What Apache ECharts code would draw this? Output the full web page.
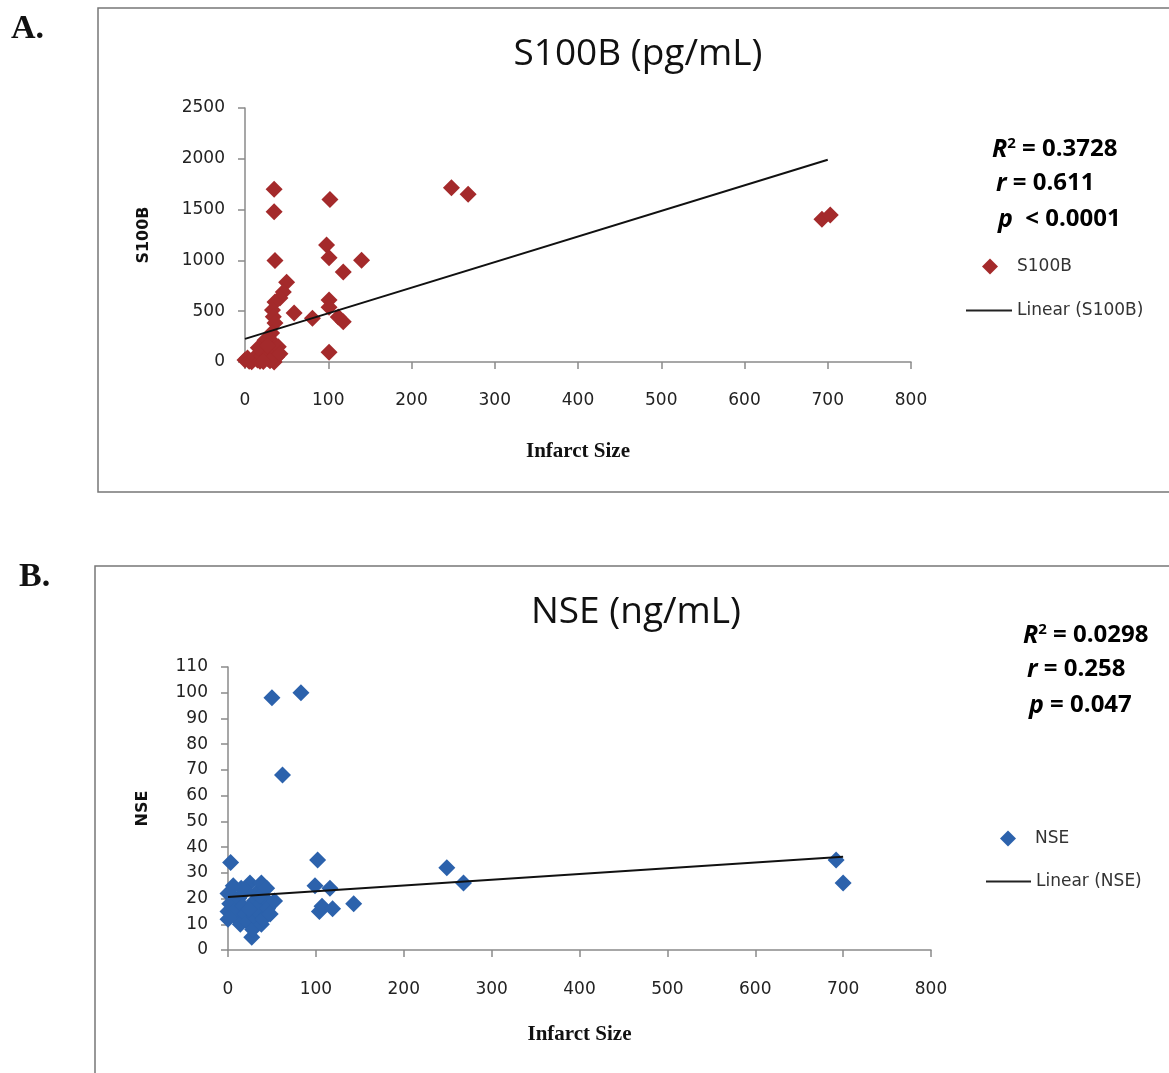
<!DOCTYPE html>
<html>
<head>
<meta charset="utf-8">
<script src="https://cdn.jsdelivr.net/npm/echarts@6/dist/echarts.min.js"></script>
<style>
html,body{margin:0;padding:0;background:#fff;}
#chart{width:1169px;height:1073px;}
</style>
</head>
<body>
<div id="chart"></div>
<script>
// ---- Data ----
const xTicksA = [0, 100, 200, 300, 400, 500, 600, 700, 800];
const yTicksA = [0, 500, 1000, 1500, 2000, 2500];
const xTicksB = [0, 100, 200, 300, 400, 500, 600, 700, 800];
const yTicksB = [0, 10, 20, 30, 40, 50, 60, 70, 80, 90, 100, 110];

// Panel A: S100B (pg/mL) vs infarct size
const s100bPoints = [
  [35,1700],[35,1480],[102,1600],[248,1715],[268,1652],[693,1405],[703,1448],
  [36,1000],[98,1152],[101,1025],[140,1002],[118,885],[50,785],[46,690],[42,630],
  [36,590],[33,512],[34,445],[36,385],[32,285],[34,190],[59,482],[81,430],
  [101,610],[101,540],[112,443],[118,396],[101,95],
  [0,20],[3,40],[5,8],[8,2],[12,50],[15,20],[18,8],[20,60],[24,90],[24,215],
  [16,140],[28,30],[30,70],[32,120],[38,50],[40,150],[35,0],[30,12],[42,80],[22,4],[27,160]
];
const s100bTrend = [[0,228],[700,1990]];

// Panel B: NSE (ng/mL) vs infarct size
const nsePoints = [
  [3,34],[0,22],[5,21],[2,18],[0,15],[0,12],[8,13],[10,16],[12,20],[14,10],
  [17,17],[19,14],[22,11],[25,26],[27,5],[28,8],[30,13],[30,19],[32,22],[34,15],
  [35,17],[38,26],[38,10],[40,12],[42,20],[45,16],[48,14],[53,19],[20,23],[15,24],
  [6,25],[24,16],[36,21],[44,24],
  [50,98],[83,100],[62,68],[102,35],[99,25],[104,15],[107,17],[116,24],[119,16],
  [143,18],[249,32],[268,26],[692,35],[700,26]
];
const nseTrend = [[0,20.6],[700,36.2]];

const RED = '#A42A2B';
const BLUE = '#2C62AC';
const AXIS = '#8a8a8a';
const TICKFONT = 'DejaVu Sans';

function plain(v){ return String(v); }

function xAxisCfg(grid, ticks, nameGap, labelMargin){
  return {
    gridIndex: grid, type: 'value',
    min: ticks[0], max: ticks[ticks.length-1], interval: ticks[1]-ticks[0],
    axisLine: {show: true, onZero: false, lineStyle: {color: AXIS, width: 1.5}},
    axisTick: {show: true, length: 7, lineStyle: {color: AXIS, width: 1.5}},
    splitLine: {show: false},
    axisLabel: {fontFamily: TICKFONT, fontSize: 17, color: '#222', margin: labelMargin, formatter: plain},
    name: 'Infarct Size', nameLocation: 'middle', nameGap: nameGap,
    nameTextStyle: {fontFamily: 'Liberation Serif', fontWeight: 'bold', fontSize: 21, color: '#111'}
  };
}
function yAxisCfg(grid, ticks, name, nameGap){
  return {
    gridIndex: grid, type: 'value',
    min: ticks[0], max: ticks[ticks.length-1], interval: ticks[1]-ticks[0],
    axisLine: {show: true, onZero: false, lineStyle: {color: AXIS, width: 1.5}},
    axisTick: {show: true, length: 7, lineStyle: {color: AXIS, width: 1.5}},
    splitLine: {show: false},
    axisLabel: {fontFamily: TICKFONT, fontSize: 17, color: '#222', margin: 20, formatter: plain},
    name: name, nameLocation: 'middle', nameGap: nameGap, nameRotate: 90,
    nameTextStyle: {fontFamily: 'DejaVu Sans', fontWeight: 'bold', fontSize: 16, color: '#111'}
  };
}

const statRich = {
  it: {fontFamily: 'Open Sans', fontWeight: 'bold', fontStyle: 'italic', fontSize: 25, color: '#111'},
  b: {fontFamily: 'Open Sans', fontWeight: 'bold', fontSize: 24, color: '#111'},
  sup: {fontFamily: 'Open Sans', fontWeight: 'bold', fontSize: 15, color: '#111', padding: [0,0,12,0]}
};
function statText(x, y, str){
  return {type: 'text', left: x, top: y, style: {text: str, rich: statRich}, z: 10};
}

const legendText = {fontFamily: 'DejaVu Sans', fontSize: 17, color: '#333'};

const option = {
  backgroundColor: '#fff',
  animation: false,
  grid: [
    {left: 245, width: 666, top: 108, height: 254},
    {left: 228, width: 703, top: 667, height: 283}
  ],
  xAxis: [xAxisCfg(0, xTicksA, 79, 30), xAxisCfg(1, xTicksB, 74, 31)],
  yAxis: [yAxisCfg(0, yTicksA, 'S100B', 93), yAxisCfg(1, yTicksB, 'NSE', 77)],
  legend: [
    {data: [{name: 'S100B', icon: 'diamond'}], left: 982, top: 258, padding: 0, itemWidth: 16, itemHeight: 16,
     selectedMode: false, textStyle: Object.assign({padding: [0,0,0,14]}, legendText)},
    {data: [{name: 'Linear (S100B)', icon: 'rect'}], left: 966, top: 302, padding: 0, itemWidth: 46, itemHeight: 2,
     selectedMode: false, textStyle: legendText},
    {data: [{name: 'NSE', icon: 'diamond'}], left: 1000, top: 830, padding: 0, itemWidth: 16, itemHeight: 16,
     selectedMode: false, textStyle: Object.assign({padding: [0,0,0,14]}, legendText)},
    {data: [{name: 'Linear (NSE)', icon: 'rect'}], left: 986, top: 873, padding: 0, itemWidth: 45, itemHeight: 2,
     selectedMode: false, textStyle: legendText}
  ],
  series: [
    {name: 'S100B', type: 'scatter', xAxisIndex: 0, yAxisIndex: 0, data: s100bPoints,
     symbol: 'diamond', symbolSize: 17, itemStyle: {color: RED, opacity: 1}, z: 2},
    {name: 'Linear (S100B)', type: 'line', xAxisIndex: 0, yAxisIndex: 0, data: s100bTrend,
     symbol: 'none', color: '#222', lineStyle: {color: '#111', width: 2}, z: 3},
    {name: 'NSE', type: 'scatter', xAxisIndex: 1, yAxisIndex: 1, data: nsePoints,
     symbol: 'diamond', symbolSize: 17, itemStyle: {color: BLUE, opacity: 1}, z: 2},
    {name: 'Linear (NSE)', type: 'line', xAxisIndex: 1, yAxisIndex: 1, data: nseTrend,
     symbol: 'none', color: '#222', lineStyle: {color: '#111', width: 2}, z: 3}
  ],
  graphic: [
    {type: 'rect', shape: {x: 98, y: 8, width: 1120, height: 484}, style: {fill: 'none', stroke: '#777', lineWidth: 1.5}, silent: true},
    {type: 'rect', shape: {x: 95, y: 566, width: 1120, height: 540}, style: {fill: 'none', stroke: '#777', lineWidth: 1.5}, silent: true},
    {type: 'text', left: 11, top: 12, style: {text: 'A.', font: 'bold 34px "Liberation Serif"', fill: '#111'}},
    {type: 'text', left: 19, top: 560, style: {text: 'B.', font: 'bold 34px "Liberation Serif"', fill: '#111'}},
    {type: 'text', x: 638, y: 54, style: {text: 'S100B (pg/mL)', font: '37px "Open Sans"', fill: '#111', align: 'center', verticalAlign: 'middle'}},
    {type: 'text', x: 636, y: 612, style: {text: 'NSE (ng/mL)', font: '37px "Open Sans"', fill: '#111', align: 'center', verticalAlign: 'middle'}},
    statText(992, 136, '{it|R}{sup|2}{b| = 0.3728}'),
    statText(996, 171, '{it|r}{b| = 0.611}'),
    statText(998, 207, '{it|p}{b|  < 0.0001}'),
    statText(1023, 622, '{it|R}{sup|2}{b| = 0.0298}'),
    statText(1027, 657, '{it|r}{b| = 0.258}'),
    statText(1029, 693, '{it|p}{b| = 0.047}')
  ]
};

const chart = echarts.init(document.getElementById('chart'), null, {renderer: 'canvas'});
chart.setOption(option);
</script>
</body>
</html>
